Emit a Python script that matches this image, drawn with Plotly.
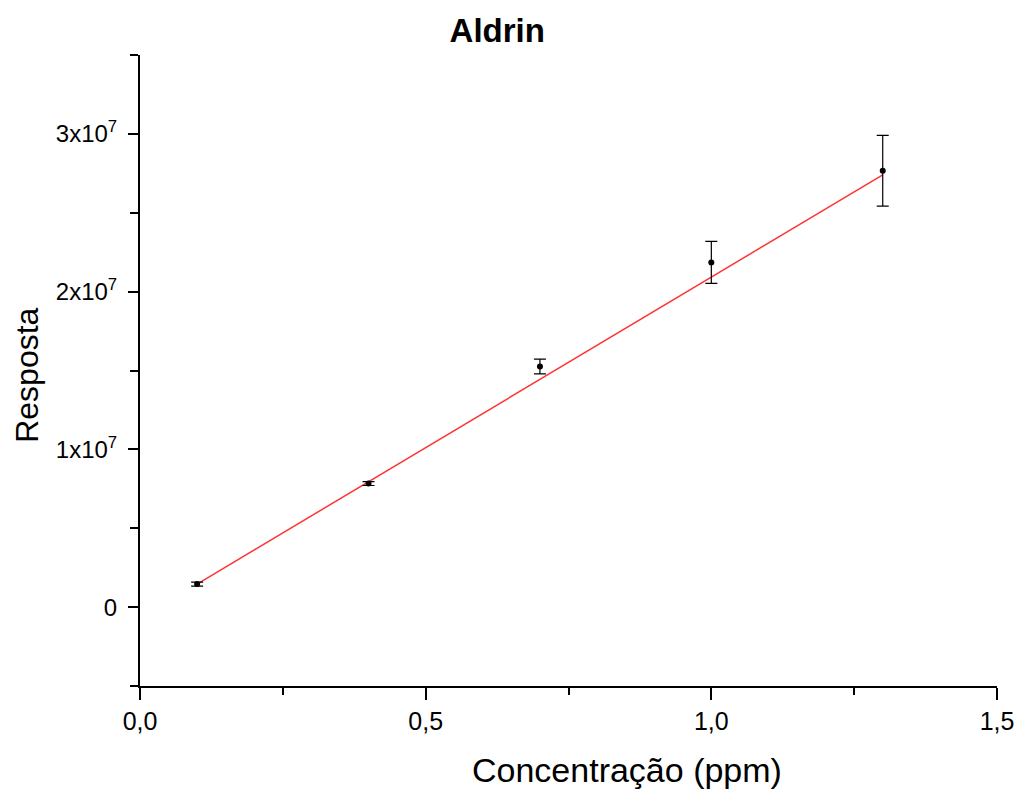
import plotly.graph_objects as go

# Data
conc = [0.1, 0.4, 0.7, 1.0, 1.3]
resp = [1.46e6, 7.83e6, 1.525e7, 2.185e7, 2.766e7]
resp_err = [1.3e5, 1.2e5, 4.7e5, 1.33e6, 2.24e6]

# Linear fit shown on the chart (as drawn)
fit_slope = 2.162e7
fit_intercept = -7.0e5
fit_x = [0.1, 1.3]

y_tickvals = [0, 1e7, 2e7, 3e7]
y_ticktext = ["0", "1x10<sup>7</sup>", "2x10<sup>7</sup>", "3x10<sup>7</sup>"]
x_tickvals = [0.0, 0.5, 1.0, 1.5]
x_ticktext = ["0,0", "0,5", "1,0", "1,5"]

fit_y = [fit_slope * x + fit_intercept for x in fit_x]

fig = go.Figure()
fig.add_trace(go.Scatter(
    x=fit_x, y=fit_y, mode="lines",
    line=dict(color="#ff3333", width=1.5),
    showlegend=False, hoverinfo="skip"))
fig.add_trace(go.Scatter(
    x=conc, y=resp, mode="markers",
    marker=dict(color="black", size=6),
    error_y=dict(type="data", array=resp_err, color="black", thickness=1.2, width=6),
    showlegend=False))

font_family = "Liberation Sans, Arial, sans-serif"
fig.update_layout(
    width=1021, height=791,
    margin=dict(l=140, r=24, t=55, b=105, autoexpand=False),
    paper_bgcolor="white", plot_bgcolor="white",
    font=dict(family=font_family, color="black"),
    title=dict(text="<b>Aldrin</b>", x=0.487, xanchor="center", y=0.962, yanchor="middle",
               font=dict(size=33, family=font_family, color="black")),
    xaxis=dict(
        range=[0, 1.5], tickmode="array", tickvals=x_tickvals, ticktext=x_ticktext,
        showgrid=False, zeroline=False, showline=True, linecolor="black", linewidth=2,
        ticks="outside", ticklen=12, tickwidth=2, tickcolor="black",
        tickfont=dict(size=25), automargin=False,
        minor=dict(tickmode="linear", tick0=0, dtick=0.25, ticks="outside", ticklen=7,
                   tickwidth=1.5, tickcolor="black", showgrid=False),
    ),
    yaxis=dict(
        range=[-5e6, 3.5e7], tickmode="array", tickvals=y_tickvals, ticktext=y_ticktext,
        showgrid=False, zeroline=False, showline=True, linecolor="black", linewidth=2,
        ticks="outside", ticklen=10, tickwidth=2, tickcolor="black",
        tickfont=dict(size=24), automargin=False, ticklabelstandoff=6,
        minor=dict(tickmode="linear", tick0=0, dtick=5e6, ticks="outside", ticklen=8,
                   tickwidth=1.5, tickcolor="black", showgrid=False),
    ),
    annotations=[
        dict(text="Concentração (ppm)", xref="paper", yref="paper", x=0.568, y=-0.133,
             xanchor="center", yanchor="middle", showarrow=False,
             font=dict(size=34, family=font_family, color="black")),
        dict(text="Resposta", xref="paper", yref="paper", x=-0.132, y=0.493,
             xanchor="center", yanchor="middle", showarrow=False, textangle=-90,
             font=dict(size=32, family=font_family, color="black")),
    ],
)

fig.write_html("out.html")
